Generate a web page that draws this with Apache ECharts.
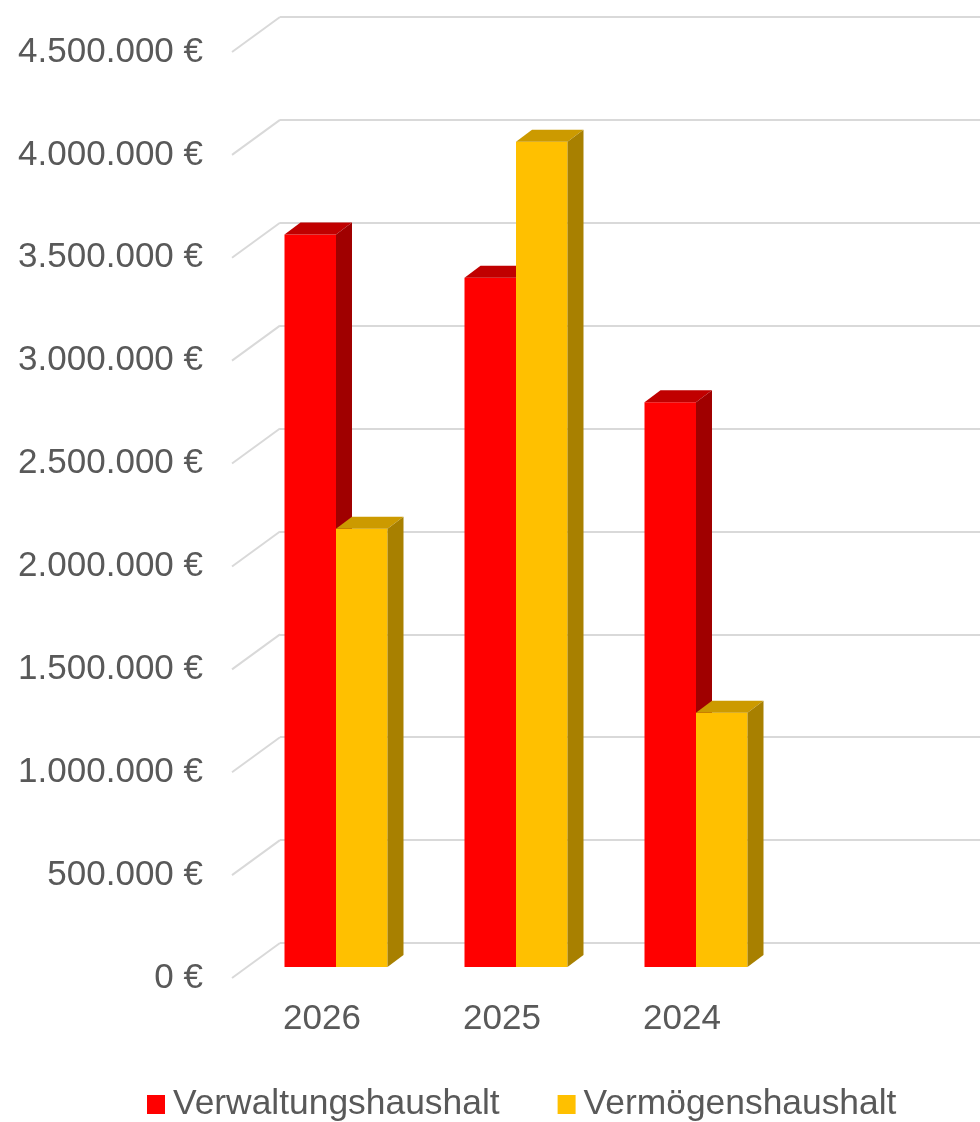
<!DOCTYPE html>
<html>
<head>
<meta charset="utf-8">
<script src="https://cdn.jsdelivr.net/npm/echarts@6/dist/echarts.min.js"></script>
<style>
  html, body { margin: 0; padding: 0; background: #fff; }
  #chart { width: 980px; height: 1122px; }
</style>
</head>
<body>
<div id="chart"></div>
<script>
const years = ['2026', '2025', '2024'];
const verwaltung = [3560000, 3350000, 2745000];
const vermoegen = [2130000, 4010000, 1235000];
const yTicks = [0, 500000, 1000000, 1500000, 2000000, 2500000, 3000000, 3500000, 4000000, 4500000];

const FONT = '"Liberation Sans", Arial, sans-serif';
const TEXT = '#595959';
const GRIDCOL = '#D9D9D9';
// depth of the bars and of the back wall (oblique 3D look)
const BAR_DX = 16, BAR_DY = -12;
const WALL_DX = 48, WALL_DY = -35;

const fmtEuro = (v) => String(v).replace(/\B(?=(\d{3})+(?!\d))/g, '.') + ' €';

function bar3d(side, front, topC, sideC) {
  return function (params, api) {
    const cat = api.value(0);
    const top = api.coord([cat, api.value(1)]);
    const base = api.coord([cat, 0]);
    const band = api.size([1, 0])[0];
    const w = band * 0.2861;
    const x0 = side === 0 ? top[0] - w : top[0];
    const x1 = x0 + w;
    return {
      type: 'group',
      children: [
        { type: 'rect', shape: { x: x0, y: top[1], width: w, height: base[1] - top[1] }, style: { fill: front } },
        { type: 'polygon', shape: { points: [[x0, top[1]], [x0 + BAR_DX, top[1] + BAR_DY], [x1 + BAR_DX, top[1] + BAR_DY], [x1, top[1]]] }, style: { fill: topC } },
        { type: 'polygon', shape: { points: [[x1, top[1]], [x1 + BAR_DX, top[1] + BAR_DY], [x1 + BAR_DX, base[1] + BAR_DY], [x1, base[1]]] }, style: { fill: sideC } }
      ]
    };
  };
}

const chart = echarts.init(document.getElementById('chart'));

const yBase = { type: 'value', min: 0, max: 4500000, interval: 500000 };

chart.setOption({
  animation: false,
  textStyle: { fontFamily: FONT },
  grid: [
    // bar front plane
    { left: 246, width: 540, top: 41, height: 926 },
    // back wall
    { left: 280, right: -20, top: 17, height: 926 },
    // front floor edge (labels)
    { left: 232, width: 540, top: 52, height: 926 }
  ],
  xAxis: [
    { gridIndex: 0, type: 'category', data: years, show: false },
    { gridIndex: 1, type: 'value', min: 0, max: 1, show: false },
    {
      gridIndex: 2, type: 'category', data: years,
      axisLine: { show: false }, axisTick: { show: false }, splitLine: { show: false },
      axisLabel: { color: TEXT, fontSize: 35, fontFamily: FONT, margin: 24 }
    }
  ],
  yAxis: [
    Object.assign({ gridIndex: 0, show: false }, yBase),
    Object.assign({
      gridIndex: 1,
      axisLine: { show: false }, axisTick: { show: false }, axisLabel: { show: false },
      splitLine: { show: true, lineStyle: { color: GRIDCOL, width: 2 } }
    }, yBase),
    Object.assign({
      gridIndex: 2,
      axisLine: { show: false }, axisTick: { show: false }, splitLine: { show: false },
      axisLabel: { color: TEXT, fontSize: 35, fontFamily: FONT, margin: 29, formatter: fmtEuro }
    }, yBase)
  ],
  legend: {
    left: 147, top: 1087, padding: 0,
    icon: 'rect', itemWidth: 18, itemHeight: 19, itemGap: 58,
    textStyle: { color: TEXT, fontSize: 35.4, fontFamily: FONT, padding: [0, 0, 0, 3] },
    data: ['Verwaltungshaushalt', 'Vermögenshaushalt']
  },
  series: [
    {
      // diagonal edges of the gridlines on the side wall
      type: 'custom', xAxisIndex: 1, yAxisIndex: 1, silent: true, z: 1,
      data: yTicks.map((v) => [0, v]),
      renderItem: (params, api) => {
        const p = api.coord([0, api.value(1)]);
        return {
          type: 'line',
          shape: { x1: p[0] - WALL_DX, y1: p[1] - WALL_DY, x2: p[0], y2: p[1] },
          style: { stroke: GRIDCOL, lineWidth: 2 }
        };
      }
    },
    {
      name: 'Verwaltungshaushalt', type: 'custom', xAxisIndex: 0, yAxisIndex: 0, z: 3,
      itemStyle: { color: '#FF0000' },
      data: years.map((y, i) => [i, verwaltung[i]]),
      renderItem: bar3d(0, '#FF0000', '#C00000', '#A00000')
    },
    {
      name: 'Vermögenshaushalt', type: 'custom', xAxisIndex: 0, yAxisIndex: 0, z: 4,
      itemStyle: { color: '#FFC000' },
      data: years.map((y, i) => [i, vermoegen[i]]),
      renderItem: bar3d(1, '#FFC000', '#CC9A00', '#A88000')
    }
  ]
});
</script>
</body>
</html>
